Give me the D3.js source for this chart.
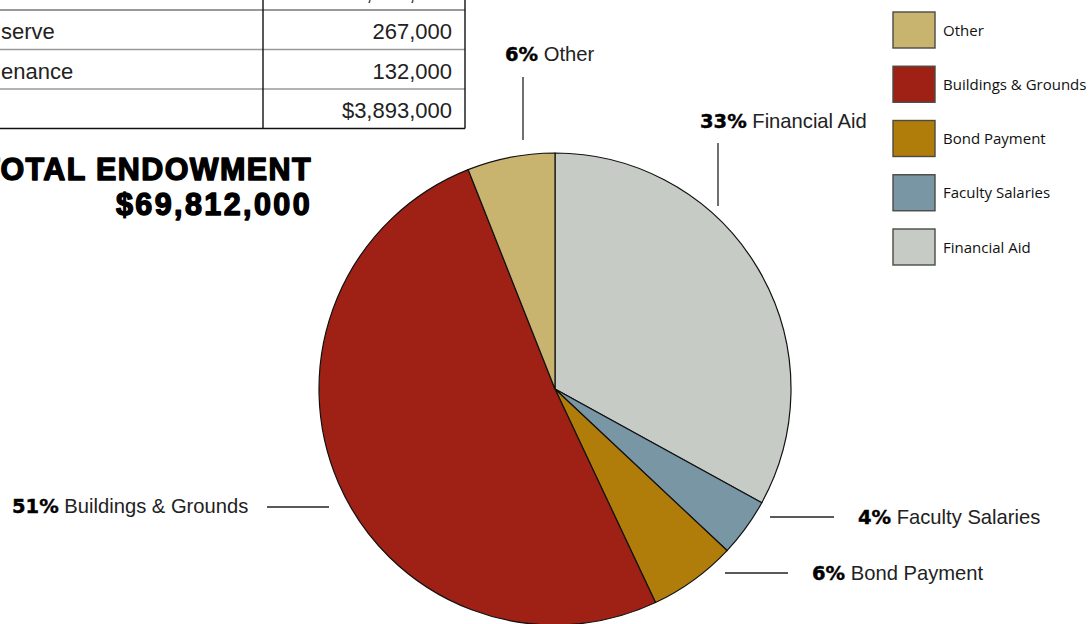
<!DOCTYPE html>
<html>
<head>
<meta charset="utf-8">
<script src="https://cdn.jsdelivr.net/npm/d3@7"></script>
<style>
  body { margin: 0; background: #fff; }
  svg { display: block; }
</style>
</head>
<body>
<div id="chart"></div>
<script>
// data
var categories = ["Financial Aid", "Faculty Salaries", "Bond Payment", "Buildings & Grounds", "Other"];
var percents = [33, 4, 6, 51, 6];
var colors = ["#c6ccc5", "#7896a4", "#b07d0a", "#9f2116", "#c8b46f"];
var legendOrder = ["Other", "Buildings & Grounds", "Bond Payment", "Faculty Salaries", "Financial Aid"];

// table (cut off at top left in the original)
var tableLabels = ["", "serve", "enance", ""];
var tableValues = ["3,494,000", "267,000", "132,000", "$3,893,000"];

var totalTitle = ["TOTAL ENDOWMENT", "$69,812,000"];

// label placement (layout only)
var labelPos = {
    "Other":               {tx: 505, ty: 61,  line: [523, 77, 523, 140]},
    "Financial Aid":       {tx: 700, ty: 128, line: [718, 143, 718, 206]},
    "Buildings & Grounds": {tx: 12,  ty: 513, line: [267, 507, 329, 507]},
    "Faculty Salaries":    {tx: 858, ty: 524, line: [770, 517, 834, 517]},
    "Bond Payment":        {tx: 812, ty: 580, line: [725, 573, 788, 573]}
};
var titleSpacing = [1.4, 2.4];

var W = 1090, H = 624;
var cx = 555, cy = 389, R = 236;

var svg = d3.select("#chart").append("svg").attr("width", W).attr("height", H);

var color = d3.scaleOrdinal().domain(categories).range(colors);

// 1. table
var rowH = 39.5, tableTop = -29.5;
var rowY = d3.scaleLinear().domain([0, 1]).range([tableTop, tableTop + rowH]);
var tbl = svg.append("g").attr("class", "table");

tableValues.forEach(function (v, i) {
    var y0 = rowY(i);
    tbl.append("text")
        .attr("x", 1).attr("y", y0 + 29)
        .attr("font-family", "Liberation Sans, Arial, sans-serif")
        .attr("font-size", 22).attr("fill", "#222")
        .text(tableLabels[i]);
    tbl.append("text")
        .attr("x", 452).attr("y", y0 + 29)
        .attr("text-anchor", "end")
        .attr("font-family", "Liberation Sans, Arial, sans-serif")
        .attr("font-size", 22).attr("fill", "#222")
        .text(v);
    if (i > 0) {
        tbl.append("line")
            .attr("x1", 0).attr("x2", 465)
            .attr("y1", y0).attr("y2", y0)
            .attr("stroke", i == 1 ? "#777" : "#999").attr("stroke-width", 1.6);
    }
});
var tBottom = rowY(tableValues.length);
tbl.append("line").attr("x1", 0).attr("x2", 465).attr("y1", tBottom).attr("y2", tBottom)
    .attr("stroke", "#111").attr("stroke-width", 1.4);
tbl.append("line").attr("x1", 263).attr("x2", 263).attr("y1", 0).attr("y2", tBottom)
    .attr("stroke", "#111").attr("stroke-width", 1.4);
tbl.append("line").attr("x1", 465).attr("x2", 465).attr("y1", 0).attr("y2", tBottom)
    .attr("stroke", "#111").attr("stroke-width", 1.4);

// 2. title
svg.append("g").selectAll("text")
    .data(totalTitle)
    .enter().append("text")
    .attr("x", 312)
    .attr("y", function (d, i) { return 180 + i * 35; })
    .attr("text-anchor", "end")
    .attr("font-family", "Liberation Sans, Arial, sans-serif")
    .attr("font-weight", "bold")
    .attr("font-size", 30.5)
    .attr("letter-spacing", function (d, i) { return titleSpacing[i]; })
    .attr("fill", "#000")
    .attr("stroke", "#000").attr("stroke-width", 1.4)
    .attr("stroke-linejoin", "round")
    .text(function (d) { return d; });

// 3. pie
var pie = d3.pie().sort(null).value(function (d) { return d.value; });
var arc = d3.arc().innerRadius(0).outerRadius(R);
var pieData = pie(categories.map(function (c, i) { return {name: c, value: percents[i]}; }));

var gPie = svg.append("g").attr("transform", "translate(" + cx + "," + cy + ")");
gPie.selectAll("path")
    .data(pieData)
    .enter().append("path")
    .attr("d", arc)
    .attr("fill", function (d) { return color(d.data.name); })
    .attr("stroke", "#111")
    .attr("stroke-width", 1.2)
    .attr("stroke-linejoin", "round");

// 4. labels + leader lines
var gLab = svg.append("g");
pieData.forEach(function (d) {
    var p = labelPos[d.data.name];
    gLab.append("line")
        .attr("x1", p.line[0]).attr("y1", p.line[1])
        .attr("x2", p.line[2]).attr("y2", p.line[3])
        .attr("stroke", "#222").attr("stroke-width", 1.3);
    var t = gLab.append("text")
        .attr("x", p.tx).attr("y", p.ty)
        .attr("font-size", 20.2).attr("fill", "#222");
    t.append("tspan")
        .attr("font-family", "DejaVu Sans, sans-serif")
        .attr("font-weight", "bold").attr("fill", "#000")
        .attr("stroke", "#000").attr("stroke-width", 0.4)
        .attr("font-size", 19.5)
        .text(d.data.value + "%");
    t.append("tspan")
        .attr("font-family", "Liberation Sans, Arial, sans-serif")
        .text(" " + d.data.name);
});

// 5. legend
var legY = d3.scalePoint().domain(legendOrder).range([12, 229]);
var leg = svg.append("g").selectAll("g")
    .data(legendOrder)
    .enter().append("g")
    .attr("transform", function (d) { return "translate(893," + legY(d) + ")"; });
leg.append("rect")
    .attr("width", 42).attr("height", 36)
    .attr("fill", function (d) { return color(d); })
    .attr("stroke", "#4a4a44").attr("stroke-width", 1.4);
leg.append("text")
    .attr("x", 50).attr("y", 23.5)
    .attr("font-family", "Open Sans, Noto Sans, sans-serif")
    .attr("font-size", 15).attr("fill", "#111")
    .text(function (d) { return d; });
</script>
</body>
</html>
